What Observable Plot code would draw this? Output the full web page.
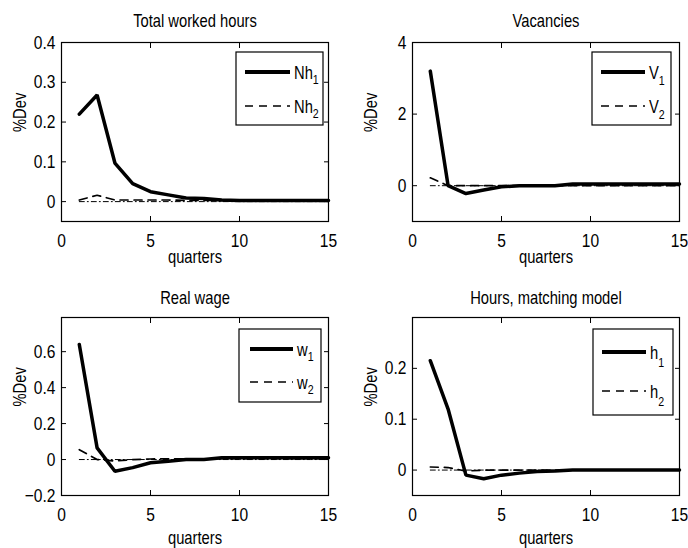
<!DOCTYPE html>
<html>
<head>
<meta charset="utf-8">
<script src="https://cdn.jsdelivr.net/npm/d3@7"></script>
<script src="https://cdn.jsdelivr.net/npm/@observablehq/plot@0.6"></script>
<style>
  body { margin: 0; background: #fff; }
  #wrap { position: relative; width: 688px; height: 548px; overflow: hidden; background: #fff; }
  .panel { position: absolute; width: 344px; height: 274px; }
  .panel svg { display: block; overflow: visible; }
</style>
</head>
<body>
<div id="wrap"></div>
<script>
// ---------- data ----------
const quarters = [1, 2, 3, 4, 5, 6, 7, 8, 9, 10, 11, 12, 13, 14, 15];
const xTicks = [0, 5, 10, 15];

const nh1 = [0.220, 0.268, 0.097, 0.045, 0.025, 0.017, 0.009, 0.008, 0.004, 0.003, 0.003, 0.003, 0.003, 0.003, 0.003];
const nh2 = [0.004, 0.016, 0.004, 0.004, 0.004, 0.004, 0.003, 0.003, 0.003, 0.003, 0.003, 0.003, 0.003, 0.003, 0.003];

const v1 = [3.20, 0.00, -0.22, -0.12, -0.03, 0.00, 0.00, 0.00, 0.05, 0.05, 0.05, 0.05, 0.05, 0.05, 0.05];
const v2 = [0.22, 0.00, 0.00, 0.00, 0.00, 0.00, 0.00, 0.00, 0.00, 0.00, 0.00, 0.00, 0.00, 0.00, 0.00];

const w1 = [0.640, 0.065, -0.065, -0.045, -0.018, -0.010, 0.000, 0.000, 0.010, 0.010, 0.010, 0.010, 0.010, 0.010, 0.010];
const w2 = [0.055, 0.000, -0.008, 0.000, 0.003, 0.004, 0.004, 0.004, 0.005, 0.005, 0.005, 0.005, 0.005, 0.005, 0.005];

const h1 = [0.215, 0.120, -0.010, -0.017, -0.010, -0.006, -0.003, -0.002, 0.000, 0.000, 0.000, 0.000, 0.000, 0.000, 0.000];
const h2 = [0.006, 0.005, -0.002, 0.000, 0.000, 0.000, 0.000, 0.000, 0.000, 0.000, 0.000, 0.000, 0.000, 0.000, 0.000];

const zeros = quarters.map(() => 0);

const titles = ["Total worked hours", "Vacancies", "Real wage", "Hours, matching model"];
const legendBase = ["Nh", "V", "w", "h"];
const xLabel = "quarters";
const yLabel = "%Dev";

const yDomains = [[-0.05, 0.4], [-1, 4], [-0.2, 0.79], [-0.05, 0.3]];
const yTicksList = [[0, 0.1, 0.2, 0.3, 0.4], [0, 2, 4], [-0.2, 0, 0.2, 0.4, 0.6], [0, 0.1, 0.2]];
const series1 = [nh1, v1, w1, h1];
const series2 = [nh2, v2, w2, h2];

// ---------- layout ----------
const FONT = "'Liberation Sans', Arial, Helvetica, sans-serif";
const SQUEEZE = 0.82;   // horizontal condensing of all text (narrow Helvetica look)
const panels = [
  {left: 0,   top: 0,   mL: 61, mR: 16, mT: 42, mB: 53, titleDy: -21, xlabDy: 36,
   leg: {x0: 236, y0: 52, x1: 323, y1: 125, lx0: 245, lx1: 290, ly: [72, 106], tx: 294, sub: 5}},
  {left: 344, top: 0,   mL: 68, mR: 9,  mT: 42, mB: 53, titleDy: -21, xlabDy: 36,
   leg: {x0: 248, y0: 52, x1: 327, y1: 125, lx0: 257, lx1: 301, ly: [72, 106], tx: 305, sub: 6}},
  {left: 0,   top: 274, mL: 61, mR: 16, mT: 43, mB: 53, titleDy: -19, xlabDy: 43,
   leg: {x0: 239, y0: 55, x1: 321, y1: 128, lx0: 250, lx1: 293, ly: [75, 108], tx: 297, sub: 5}},
  {left: 344, top: 274, mL: 68, mR: 9,  mT: 43, mB: 53, titleDy: -19, xlabDy: 43,
   leg: {x0: 249, y0: 55, x1: 329, y1: 141, lx0: 258, lx1: 302, ly: [78, 117], tx: 306, sub: 8}}
];

const fmt = d => (d < 0 ? "\u2212" : "") + String(Math.abs(d));

const wrap = document.getElementById("wrap");

panels.forEach((p, i) => {
  const rows = quarters.map((q, j) => ({q, a: series1[i][j], b: series2[i][j], z: zeros[j]}));
  const chart = Plot.plot({
    width: 344,
    height: 274,
    marginLeft: p.mL,
    marginRight: p.mR,
    marginTop: p.mT,
    marginBottom: p.mB,
    style: {fontFamily: FONT, fontSize: "19px", color: "black", background: "white", overflow: "visible"},
    x: {domain: [0, 15]},
    y: {domain: yDomains[i]},
    marks: [
      Plot.frame({stroke: "black", strokeWidth: 1.2}),
      Plot.axisX({anchor: "bottom", ticks: xTicks, tickSize: -5, tickPadding: 17, tickFormat: fmt, label: null, fontSize: 19}),
      Plot.axisX({anchor: "top", ticks: xTicks, tickSize: -5, tickFormat: () => "", label: null}),
      Plot.axisY({anchor: "left", ticks: yTicksList[i], tickSize: -5, tickPadding: 11, tickFormat: fmt, label: null, fontSize: 19}),
      Plot.axisY({anchor: "right", ticks: yTicksList[i], tickSize: -5, tickFormat: () => "", label: null}),
      Plot.lineY(rows, {x: "q", y: "z", stroke: "black", strokeWidth: 1, strokeDasharray: "5,3,1,3"}),
      Plot.lineY(rows, {x: "q", y: "b", stroke: "black", strokeWidth: 1.7, strokeDasharray: "8,6"}),
      Plot.lineY(rows, {x: "q", y: "a", stroke: "black", strokeWidth: 3.5, strokeLinejoin: "miter"}),
      Plot.text([titles[i]], {frameAnchor: "top", lineAnchor: "middle", dy: p.titleDy, fontSize: 18, fill: "black"}),
      Plot.text([xLabel], {frameAnchor: "bottom", lineAnchor: "middle", dy: p.xlabDy, fontSize: 18, fill: "black"}),
      Plot.text([yLabel], {frameAnchor: "left", lineAnchor: "middle", dx: -41, rotate: -90, fontSize: 18, fill: "black"})
    ]
  });

  // condense all text horizontally around its anchor point
  d3.select(chart).selectAll("text").each(function () {
    const t = this.getAttribute("transform") || "";
    this.setAttribute("transform", (t + ` scale(${SQUEEZE},1)`).trim());
  });

  // legend box
  const svg = d3.select(chart);
  const L = p.leg;
  const g = svg.append("g").attr("font-family", FONT).attr("fill", "black").attr("text-anchor", "start");
  g.append("rect").attr("x", L.x0).attr("y", L.y0).attr("width", L.x1 - L.x0).attr("height", L.y1 - L.y0)
    .attr("fill", "white").attr("stroke", "black").attr("stroke-width", 1.2);
  [["1", 3.8, null], ["2", 1.7, "8,6"]].forEach(([sub, sw, dash], k) => {
    const y = L.ly[k];
    const line = g.append("line").attr("x1", L.lx0).attr("x2", L.lx1).attr("y1", y).attr("y2", y)
      .attr("stroke", "black").attr("stroke-width", sw);
    if (dash) line.attr("stroke-dasharray", dash);
    const t = g.append("text").attr("transform", `translate(${L.tx},${y + 7}) scale(${SQUEEZE},1)`)
      .attr("font-size", 18).attr("text-anchor", "start");
    t.append("tspan").text(legendBase[i]);
    t.append("tspan").attr("dy", L.sub).attr("font-size", 13).text(sub);
  });

  const div = document.createElement("div");
  div.className = "panel";
  div.style.left = p.left + "px";
  div.style.top = p.top + "px";
  div.appendChild(chart);
  wrap.appendChild(div);
});
</script>
</body>
</html>
